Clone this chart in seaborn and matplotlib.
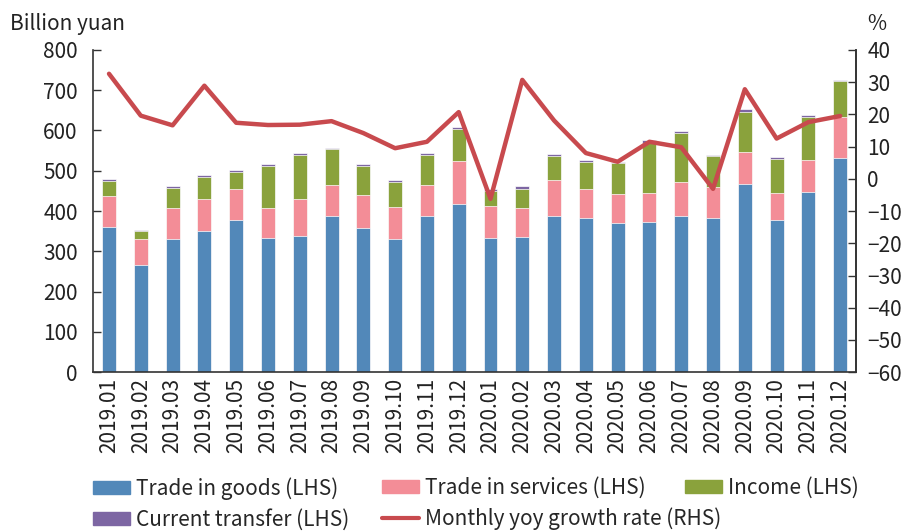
import matplotlib
matplotlib.use('Agg')
from matplotlib import pyplot as plt
from matplotlib.patches import Patch
from matplotlib.lines import Line2D
from matplotlib.ticker import MultipleLocator
import numpy as np
import pandas as pd
import seaborn as sns

### DATA ###
months = ['2019.01', '2019.02', '2019.03', '2019.04', '2019.05', '2019.06',
          '2019.07', '2019.08', '2019.09', '2019.10', '2019.11', '2019.12',
          '2020.01', '2020.02', '2020.03', '2020.04', '2020.05', '2020.06',
          '2020.07', '2020.08', '2020.09', '2020.10', '2020.11', '2020.12']
goods = [360, 265, 330, 350, 378, 334, 339, 387, 357, 330, 387, 418,
         334, 336, 387, 383, 371, 373, 387, 383, 468, 378, 448, 532]
services = [78, 65, 77, 79, 77, 73, 92, 78, 82, 81, 78, 106,
            78, 71, 89, 72, 71, 72, 86, 76, 78, 67, 79, 102]
income = [37, 21, 51, 56, 43, 106, 109, 88, 74, 62, 75, 80,
          39, 48, 61, 68, 78, 125, 121, 78, 101, 84, 106, 88]
transfer = [4, 3, 3, 4, 4, 3, 3, 3, 4, 3, 3, 4,
            4, 6, 5, 4, 2, 6, 4, 3, 6, 4, 5, 3]
yoy = [32.6, 19.6, 16.6, 28.9, 17.4, 16.7, 16.8, 17.9, 14.2, 9.5, 11.5, 20.7,
       -6.2, 30.7, 18.1, 8.0, 5.3, 11.5, 9.8, -3.1, 27.8, 12.5, 17.6, 19.5]

df = pd.DataFrame({'month': months, 'goods': goods, 'services': services,
                   'income': income, 'transfer': transfer, 'yoy': yoy})
df['s1'] = df['goods']
df['s2'] = df['s1'] + df['services']
df['s3'] = df['s2'] + df['income']
df['s4'] = df['s3'] + df['transfer']

c_goods = '#5288b9'
c_serv = '#f38d97'
c_inc = '#8aa23c'
c_tr = '#7d66a3'
c_line = '#c84a4e'
fs = 15

sns.set_style('white')
plt.rcParams['font.family'] = ['Noto Sans CJK SC', 'DejaVu Sans']
plt.rcParams['axes.unicode_minus'] = True

fig = plt.figure(figsize=(9.04, 5.31), dpi=100)
ax = fig.add_axes([0.103, 0.299, 0.844, 0.607])

# stacked bars: draw cumulative totals from the top down
for col, c in [('s4', c_tr), ('s3', c_inc), ('s2', c_serv), ('s1', c_goods)]:
    sns.barplot(data=df, x='month', y=col, color=c, width=0.44,
                edgecolor='white', linewidth=0.5, saturation=1, ax=ax)

ax.set_ylim(0, 800)
ax.set_xlim(-0.5, len(months) - 0.5)
ax.yaxis.set_major_locator(MultipleLocator(100))
ax.set_xlabel('')
ax.set_ylabel('')
ax.tick_params(axis='x', which='major', length=0, labelsize=fs, rotation=90, pad=4)
ax.set_xticks(np.arange(len(months)) + 0.5, minor=True)
ax.tick_params(axis='x', which='minor', direction='in', length=5, width=1, color='#333333')
ax.tick_params(axis='y', direction='in', length=6, width=1, labelsize=fs, color='#333333', pad=11)
ax.spines['top'].set_visible(False)
for s in ['left', 'bottom', 'right']:
    ax.spines[s].set_color('#333333')
    ax.spines[s].set_linewidth(1.2)

ax2 = ax.twinx()
sns.lineplot(x=np.arange(len(months)), y=df['yoy'], color=c_line, lw=3.2, ax=ax2)
ax2.set_ylim(-60, 40)
ax2.yaxis.set_major_locator(MultipleLocator(10))
ax2.set_ylabel('')
ax2.tick_params(axis='y', direction='in', length=6, width=1, labelsize=fs, color='#333333', pad=8)
ax2.spines['top'].set_visible(False)
ax2.spines['right'].set_color('#333333')
ax2.spines['right'].set_linewidth(1.2)
ax2.spines['left'].set_visible(False)
ax2.spines['bottom'].set_visible(False)

for a in (ax, ax2):
    for lab in a.get_xticklabels() + a.get_yticklabels():
        lab.set_color('#222222')

fig.text(0.011, 0.955, 'Billion yuan', fontsize=fs, color='#222222', va='center')
fig.text(0.959, 0.955, '%', fontsize=fs, color='#222222', va='center')

# legend laid out as three columns, positioned like the reference
legend_cols = [
    (93, [Patch(color=c_goods), Patch(color=c_tr)],
     ['Trade in goods (LHS)', 'Current transfer (LHS)']),
    (382, [Patch(color=c_serv), Line2D([0], [0], color=c_line, lw=3)],
     ['Trade in services (LHS)', 'Monthly yoy growth rate (RHS)']),
    (685, [Patch(color=c_inc)], ['Income (LHS)']),
]
for xpx, hs, ls in legend_cols:
    fig.legend(hs, ls, loc='upper left', bbox_to_anchor=(xpx / 904, 1 - 477 / 531),
               frameon=False, fontsize=fs, handlelength=1.78, handleheight=0.58,
               handletextpad=0.3, labelspacing=0.42, borderpad=0, borderaxespad=0)

fig.savefig('out.png', dpi=100)
